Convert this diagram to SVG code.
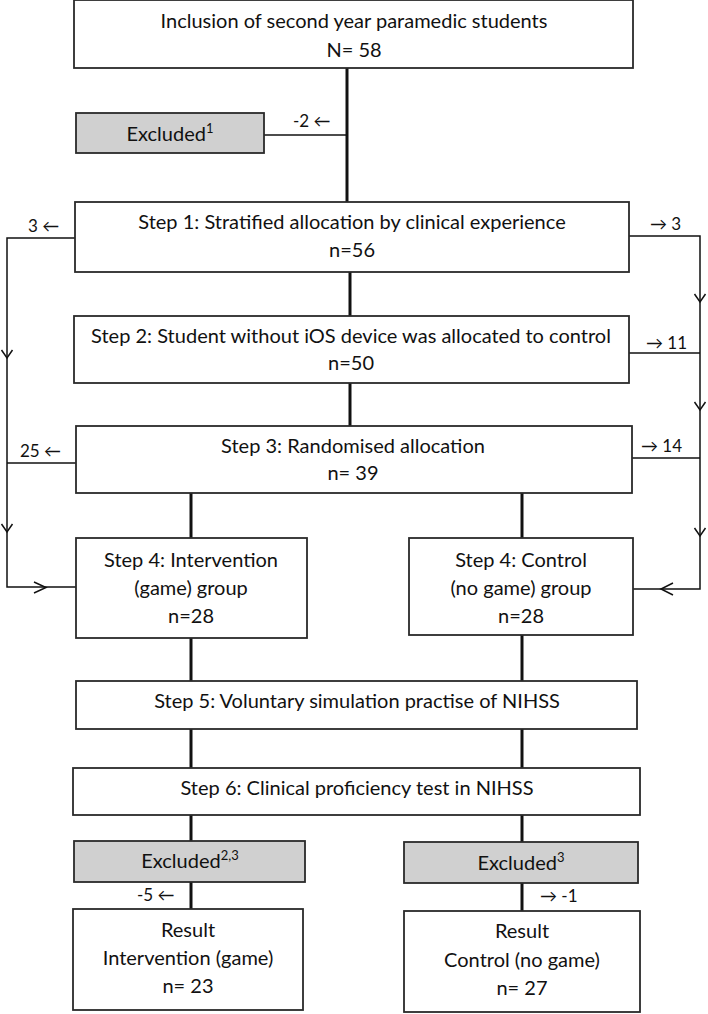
<svg xmlns="http://www.w3.org/2000/svg" width="708" height="1014" viewBox="0 0 708 1014">
<style>
.box{fill:#fff;stroke:#2a2a2a;stroke-width:1.8}
.gray{fill:#d0d0d0;stroke:#2a2a2a;stroke-width:1.8}
.t{font-family:Lato,"Liberation Sans",sans-serif;font-size:20px;fill:#111;text-anchor:middle}
.lb{font-family:Lato,"DejaVu Sans",sans-serif;font-size:17px;fill:#111}
.thick{stroke:#111;stroke-width:3;fill:none}
.thin{stroke:#111;stroke-width:1.5;fill:none}
.chev{stroke:#111;stroke-width:1.5;fill:none}
</style>
<rect width="708" height="1014" fill="#fff"/>
<g id="connectors">
<line class="thick" x1="347" y1="68" x2="347" y2="202"/>
<line class="thin" x1="264" y1="135" x2="347" y2="135"/>
<line class="thick" x1="350" y1="272" x2="350" y2="316"/>
<line class="thick" x1="350" y1="383" x2="350" y2="426"/>
<line class="thick" x1="191" y1="493" x2="191" y2="538"/>
<line class="thick" x1="522" y1="493" x2="522" y2="538"/>
<line class="thick" x1="191" y1="638" x2="191" y2="681"/>
<line class="thick" x1="522" y1="635" x2="522" y2="681"/>
<line class="thick" x1="191" y1="729" x2="191" y2="768"/>
<line class="thick" x1="522" y1="729" x2="522" y2="768"/>
<line class="thick" x1="191" y1="815" x2="191" y2="841"/>
<line class="thick" x1="522" y1="815" x2="522" y2="842"/>
<line class="thick" x1="191" y1="882" x2="191" y2="909"/>
<line class="thick" x1="522" y1="883" x2="522" y2="911"/>
<polyline class="thin" points="75,238 7,238 7,587 76,587"/>
<line class="thin" x1="7" y1="463" x2="76" y2="463"/>
<polyline class="thin" points="629,236 700,236 700,589 633,589"/>
<line class="thin" x1="629" y1="353" x2="700" y2="353"/>
<line class="thin" x1="632" y1="458" x2="700" y2="458"/>
<polyline class="chev" points="1.5,350 7,358 12.5,350"/>
<polyline class="chev" points="1.5,524 7,532 12.5,524"/>
<polyline class="chev" points="694.5,294 700,302 705.5,294"/>
<polyline class="chev" points="694.5,402 700,410 705.5,402"/>
<polyline class="chev" points="694.5,528 700,536 705.5,528"/>
<polyline class="chev" points="34,582 46,587.5 34,593"/>
<polyline class="chev" points="673,583 661,589 673,595"/>
<text class="lb" x="293" y="127">-2 ←</text>
<text class="lb" x="28" y="232">3 ←</text>
<text class="lb" x="650" y="230">→ 3</text>
<text class="lb" x="646" y="349">→ 11</text>
<text class="lb" x="20" y="457">25 ←</text>
<text class="lb" x="641" y="452">→ 14</text>
<text class="lb" x="137" y="901">-5 ←</text>
<text class="lb" x="540" y="902">→ -1</text>
</g>
<g id="n0"><rect class="box" x="74" y="0" width="559" height="68"/>
<text class="t" x="354" y="28">Inclusion of second year paramedic students</text>
<text class="t" x="354" y="57">N= 58</text></g>
<g id="excl1"><rect class="gray" x="76" y="113" width="188" height="40"/>
<text class="t" x="170" y="141">Excluded<tspan dy="-8" font-size="13">1</tspan></text></g>
<g id="step1"><rect class="box" x="75" y="202" width="554" height="70"/>
<text class="t" x="352" y="229">Step 1: Stratified allocation by clinical experience</text>
<text class="t" x="352" y="257">n=56</text></g>
<g id="step2"><rect class="box" x="74" y="316" width="555" height="67"/>
<text class="t" x="351" y="343">Step 2: Student without iOS device was allocated to control</text>
<text class="t" x="351" y="370">n=50</text></g>
<g id="step3"><rect class="box" x="76" y="426" width="556" height="67"/>
<text class="t" x="353" y="453">Step 3: Randomised allocation</text>
<text class="t" x="353" y="480">n= 39</text></g>
<g id="step4a"><rect class="box" x="76" y="538" width="231" height="100"/>
<text class="t" x="191" y="567">Step 4: Intervention</text>
<text class="t" x="191" y="595">(game) group</text>
<text class="t" x="191" y="623">n=28</text></g>
<g id="step4b"><rect class="box" x="409" y="538" width="224" height="97"/>
<text class="t" x="521" y="567">Step 4: Control</text>
<text class="t" x="521" y="595">(no game) group</text>
<text class="t" x="521" y="623">n=28</text></g>
<g id="step5"><rect class="box" x="76" y="681" width="561" height="48"/>
<text class="t" x="357" y="708">Step 5: Voluntary simulation practise of NIHSS</text></g>
<g id="step6"><rect class="box" x="73" y="768" width="567" height="47"/>
<text class="t" x="357" y="795">Step 6: Clinical proficiency test in NIHSS</text></g>
<g id="excl2"><rect class="gray" x="74" y="841" width="231" height="41"/>
<text class="t" x="190" y="868">Excluded<tspan dy="-8" font-size="13">2,3</tspan></text></g>
<g id="excl3"><rect class="gray" x="404" y="842" width="234" height="41"/>
<text class="t" x="521" y="870">Excluded<tspan dy="-8" font-size="13">3</tspan></text></g>
<g id="res1"><rect class="box" x="73" y="909" width="230" height="101"/>
<text class="t" x="188" y="937">Result</text>
<text class="t" x="188" y="965">Intervention (game)</text>
<text class="t" x="188" y="993">n= 23</text></g>
<g id="res2"><rect class="box" x="404" y="911" width="236" height="101"/>
<text class="t" x="522" y="938">Result</text>
<text class="t" x="522" y="967">Control (no game)</text>
<text class="t" x="522" y="995">n= 27</text></g>
</svg>
